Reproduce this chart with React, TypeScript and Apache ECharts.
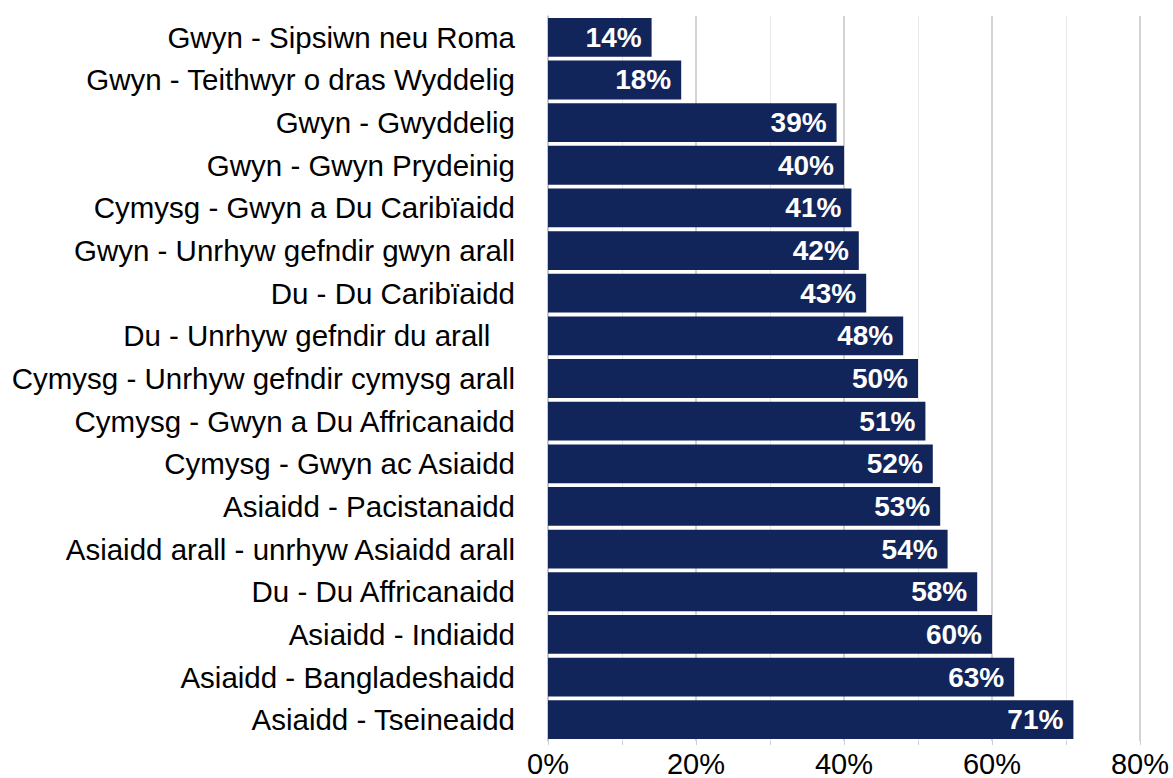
import React, { useEffect, useRef } from "react";
import * as echarts from "echarts";

const categories = [
  "Gwyn - Sipsiwn neu Roma",
  "Gwyn - Teithwyr o dras Wyddelig",
  "Gwyn - Gwyddelig",
  "Gwyn - Gwyn Prydeinig",
  "Cymysg - Gwyn a Du Caribïaidd",
  "Gwyn - Unrhyw gefndir gwyn arall",
  "Du - Du Caribïaidd",
  "Du - Unrhyw gefndir du arall\u00a0\u00a0\u00a0",
  "Cymysg - Unrhyw gefndir cymysg arall",
  "Cymysg - Gwyn a Du Affricanaidd",
  "Cymysg - Gwyn ac Asiaidd",
  "Asiaidd - Pacistanaidd",
  "Asiaidd arall - unrhyw Asiaidd arall",
  "Du - Du Affricanaidd",
  "Asiaidd - Indiaidd",
  "Asiaidd - Bangladeshaidd",
  "Asiaidd - Tseineaidd",
];
const values = [14, 18, 39, 40, 41, 42, 43, 48, 50, 51, 52, 53, 54, 58, 60, 63, 71];
const xTicks = [0, 20, 40, 60, 80];

export default function App() {
  const ref = useRef<HTMLDivElement>(null);
  useEffect(() => {
    if (!ref.current) return;
    const chart = echarts.init(ref.current, null, { renderer: "svg" });
    const font = "'Liberation Sans', Arial, sans-serif";
    chart.setOption({
      animation: false,
      grid: { left: 548, right: 33, top: 16, bottom: 29, containLabel: false },
      xAxis: {
        type: "value",
        min: xTicks[0],
        max: xTicks[xTicks.length - 1],
        interval: 20,
        axisLine: { show: false },
        axisTick: { show: true, length: 4, lineStyle: { color: "#d0d0d0", width: 1 } },
        minorTick: { show: true, splitNumber: 2, length: 4, lineStyle: { color: "#d0d0d0", width: 1 } },
        splitLine: { show: true, lineStyle: { color: "#c4c4c4", width: 1.5 } },
        minorSplitLine: { show: true, lineStyle: { color: "#e8e8e8", width: 1 } },
        axisLabel: {
          formatter: "{value}%",
          fontFamily: font,
          fontSize: 29,
          color: "#000",
          margin: 8,
        },
      },
      yAxis: {
        type: "category",
        data: categories,
        inverse: true,
        axisLine: { show: true, lineStyle: { color: "#c4c4c4", width: 1.5 } },
        axisTick: { show: false },
        axisLabel: {
          fontFamily: font,
          fontSize: 29.5,
          color: "#000",
          margin: 33,
        },
      },
      series: [
        {
          type: "bar",
          data: values,
          barCategoryGap: "9%",
          itemStyle: { color: "#12255a" },
          label: {
            show: true,
            position: "insideRight",
            distance: 10,
            formatter: "{c}%",
            color: "#fff",
            fontFamily: font,
            fontWeight: "bold",
            fontSize: 28,
          },
        },
      ],
    });
    return () => chart.dispose();
  }, []);
  return (
    <div
      ref={ref}
      style={{ position: "fixed", left: 0, top: 0, width: 1173, height: 778, background: "#fff" }}
    />
  );
}
